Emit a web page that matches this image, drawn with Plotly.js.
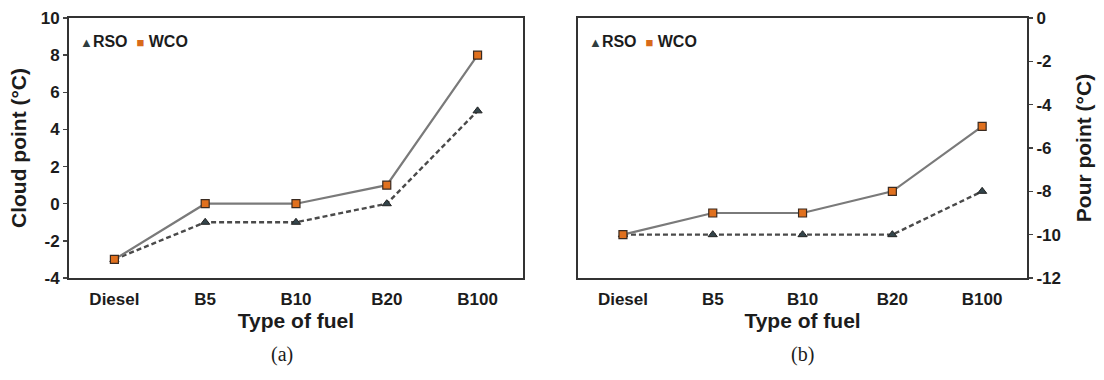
<!DOCTYPE html>
<html>
<head>
<meta charset="utf-8">
<script src="https://cdn.plot.ly/plotly-3.0.1.min.js"></script>
<style>html,body{margin:0;padding:0;background:#fff;}#chart{width:1104px;height:380px;}</style>
</head>
<body>
<div id="chart"></div>
<script>
const categories = ["Diesel", "B5", "B10", "B20", "B100"];
const cloudRSO = [-3, -1, -1, 0, 5];
const cloudWCO = [-3, 0, 0, 1, 8];
const pourRSO = [-10, -10, -10, -10, -8];
const pourWCO = [-10, -9, -9, -8, -5];
const cloudTicks = [-4, -2, 0, 2, 4, 6, 8, 10];
const pourTicks = [-12, -10, -8, -6, -4, -2, 0];

const txt = '#1c1c1c';
const FAM = 'Liberation Sans';
const triMarker = {symbol: 'triangle-up', size: 8, color: '#33444a', line: {color: '#222', width: 1}};
const sqMarker = {symbol: 'square', size: 8, color: '#e0701e', line: {color: '#3a2a20', width: 1.2}};
const rsoLine = {color: '#4a4a4a', width: 2.4, dash: '5px,3px'};
const wcoLine = {color: '#7a7a7a', width: 2.2};

const traces = [
  {x: categories, y: cloudRSO, xaxis: 'x', yaxis: 'y', mode: 'lines+markers', name: 'RSO', line: rsoLine, marker: triMarker, showlegend: false},
  {x: categories, y: cloudWCO, xaxis: 'x', yaxis: 'y', mode: 'lines+markers', name: 'WCO', line: wcoLine, marker: sqMarker, showlegend: false},
  {x: categories, y: pourRSO, xaxis: 'x2', yaxis: 'y2', mode: 'lines+markers', name: 'RSO', line: rsoLine, marker: triMarker, showlegend: false},
  {x: categories, y: pourWCO, xaxis: 'x2', yaxis: 'y2', mode: 'lines+markers', name: 'WCO', line: wcoLine, marker: sqMarker, showlegend: false}
];

const tickFont = {family: FAM, size: 17, color: txt, weight: 'bold'};
const titleFont = {family: FAM, size: 21, color: txt, weight: 'bold'};
const yDom = [0.2684, 0.9526];

function xAx(dom, anchor) {
  return {
    domain: dom, anchor: anchor, type: 'category', range: [-0.5, 4.5],
    showline: true, linecolor: '#333', linewidth: 2, mirror: true,
    ticks: '', showgrid: false, zeroline: false,
    tickfont: tickFont, ticklabelstandoff: 5,
    title: {text: 'Type of fuel', font: titleFont, standoff: 0}
  };
}
function yAx(range, tv, side, anchor, title, standoff) {
  return {
    domain: yDom, anchor: anchor, side: side, range: range,
    tickvals: tv, ticktext: tv.map(String),
    showline: true, linecolor: '#333', linewidth: 2, mirror: true,
    ticks: 'outside', ticklen: 4, tickwidth: 1.5, tickcolor: '#444',
    showgrid: false, zeroline: false, tickfont: tickFont,
    title: {text: title, font: titleFont, standoff: standoff}
  };
}

const legendFont = {family: FAM, size: 16, color: txt, weight: 'bold'};
function legendText() {
  return "<span style='color:#2f3d40;font-size:13px'>▲</span>RSO  <span style='color:#d86a1a;font-size:13px'>■</span> WCO";
}

const layout = {
  width: 1104, height: 380,
  margin: {l: 0, r: 0, t: 0, b: 0},
  paper_bgcolor: '#fff', plot_bgcolor: '#fff',
  showlegend: false,
  xaxis: xAx([0.0625, 0.4737], 'y'),
  yaxis: yAx([-4, 10], cloudTicks, 'left', 'x', 'Cloud point (°C)', 8),
  xaxis2: xAx([0.5236, 0.9303], 'y2'),
  yaxis2: yAx([-12, 0], pourTicks, 'right', 'x2', 'Pour point (°C)', 16),
  annotations: [
    {xref: 'x domain', yref: 'y domain', x: 0.02, y: 0.91, xanchor: 'left', yanchor: 'middle', text: legendText(), showarrow: false, font: legendFont},
    {xref: 'x2 domain', yref: 'y2 domain', x: 0.02, y: 0.91, xanchor: 'left', yanchor: 'middle', text: legendText(), showarrow: false, font: legendFont},
    {xref: 'x domain', yref: 'paper', x: 0.47, y: 0.066, xanchor: 'center', yanchor: 'middle', text: '(a)', showarrow: false, font: {family: 'Liberation Serif', size: 20, color: txt}},
    {xref: 'x2 domain', yref: 'paper', x: 0.5, y: 0.066, xanchor: 'center', yanchor: 'middle', text: '(b)', showarrow: false, font: {family: 'Liberation Serif', size: 20, color: txt}}
  ]
};

Plotly.newPlot('chart', traces, layout, {staticPlot: true, displayModeBar: false});
</script>
</body>
</html>
